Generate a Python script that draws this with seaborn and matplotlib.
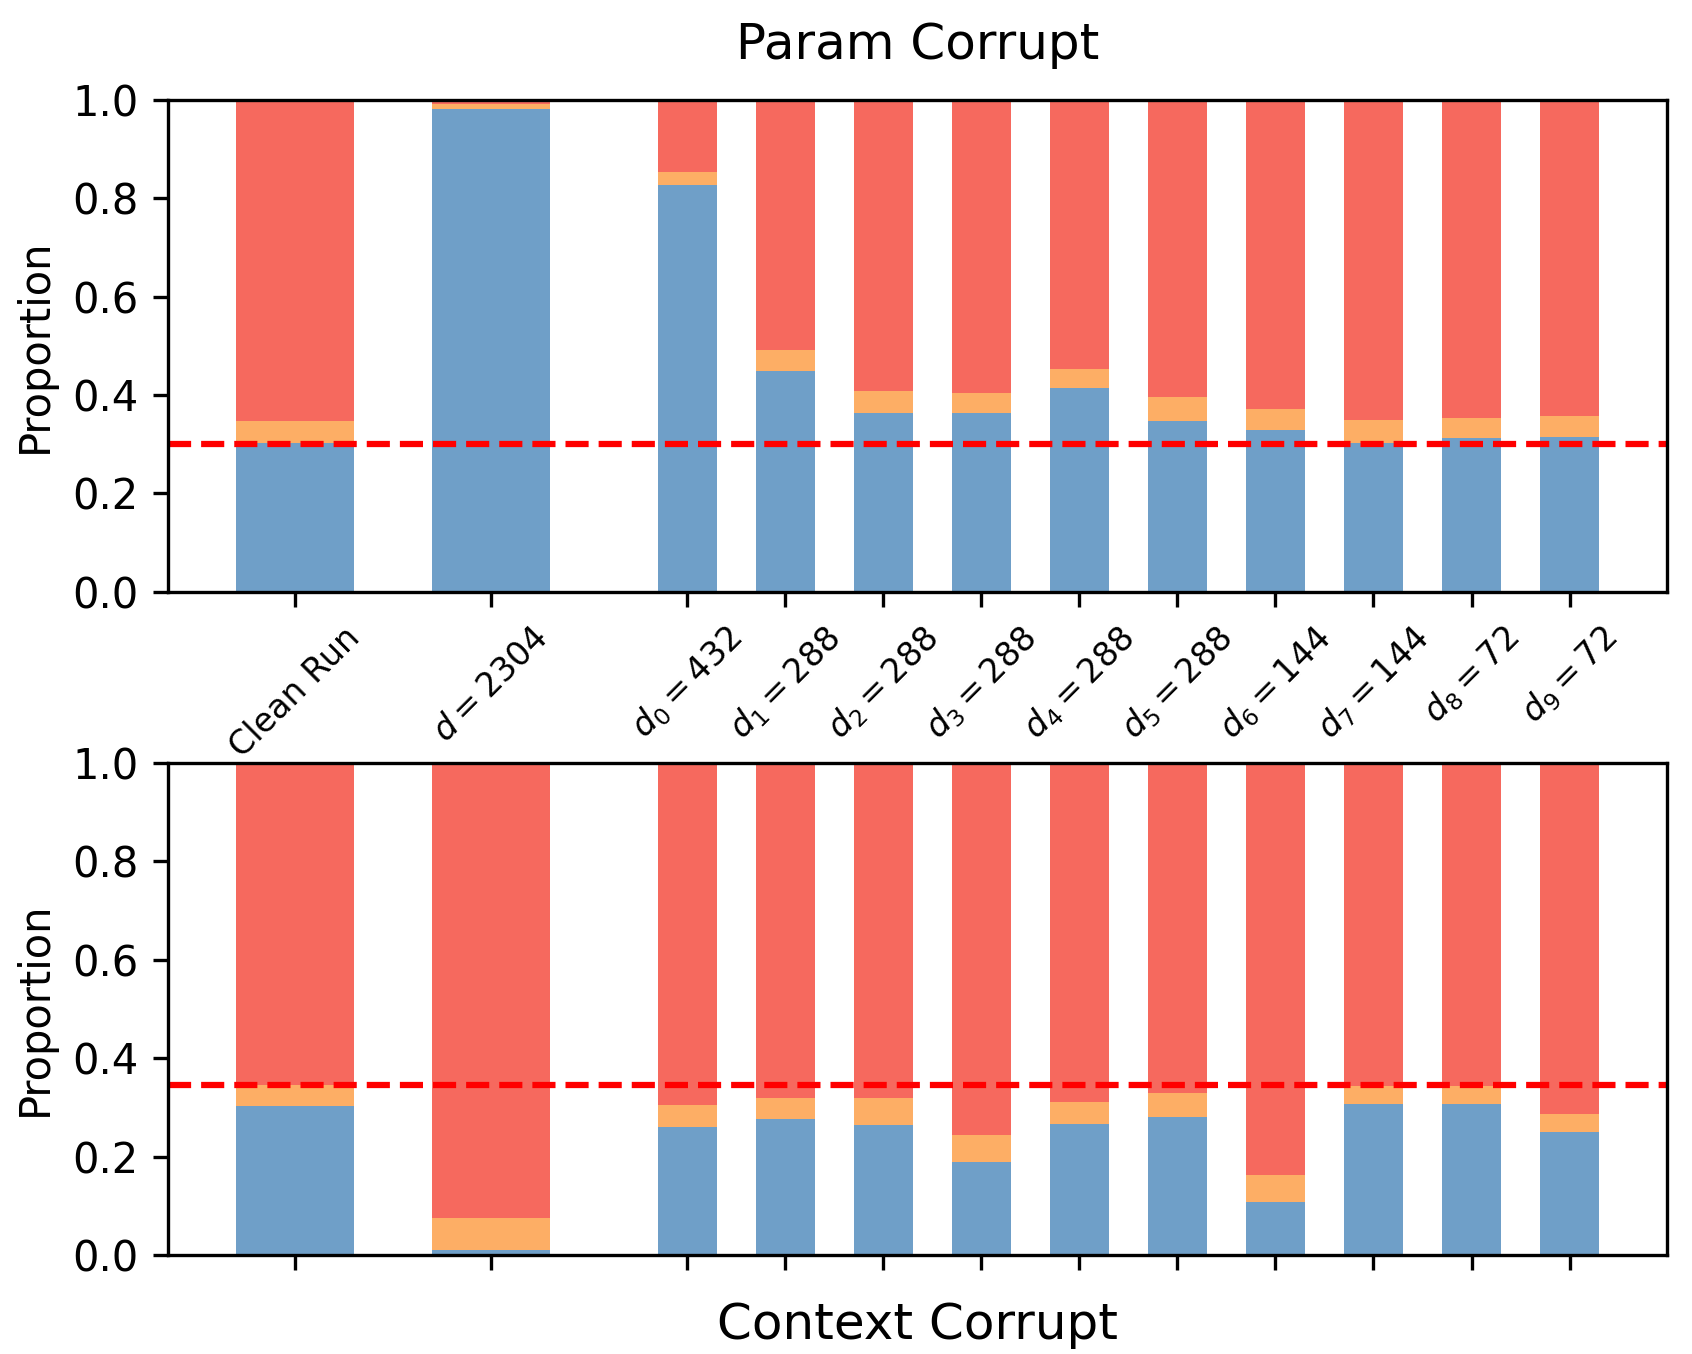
import numpy as np
import pandas as pd
import matplotlib
matplotlib.use("Agg")
import matplotlib.pyplot as plt
import seaborn as sns

# x labels: clean run, full-size baseline, then the per-subspace dims
labels = ["Clean Run", r"$d=2304$", r"$d_0=432$", r"$d_1=288$", r"$d_2=288$",
          r"$d_3=288$", r"$d_4=288$", r"$d_5=288$", r"$d_6=144$",
          r"$d_7=144$", r"$d_8=72$", r"$d_9=72$"]

# Param Corrupt (top panel)
param_correct = [0.302, 0.982, 0.827, 0.448, 0.363, 0.363, 0.414, 0.347, 0.329, 0.302, 0.313, 0.314]
param_partial = [0.045, 0.010, 0.027, 0.043, 0.045, 0.042, 0.040, 0.049, 0.042, 0.048, 0.041, 0.043]
param_baseline = 0.30

# Context Corrupt (bottom panel)
context_correct = [0.302, 0.010, 0.261, 0.276, 0.265, 0.188, 0.267, 0.280, 0.108, 0.307, 0.307, 0.249]
context_partial = [0.043, 0.065, 0.043, 0.044, 0.055, 0.055, 0.043, 0.049, 0.055, 0.037, 0.037, 0.037]
context_baseline = 0.345

BLUE = "#6F9FC8"
ORANGE = "#FDAE65"
RED = "#F6695E"

# first two bars are spaced by 2 (so they come out twice as wide), the rest by 1
positions = np.r_[0, 2, np.arange(4, 4 + len(labels) - 2)]
groups = ["wide", "wide"] + ["narrow"] * (len(labels) - 2)


def make_frame(correct, partial):
    correct = np.asarray(correct)
    partial = np.asarray(partial)
    incorrect = 1 - correct - partial
    return pd.DataFrame({
        "pos": positions,
        "group": groups,
        "top": correct + partial + incorrect,
        "mid": correct + partial,
        "low": correct,
    })


def draw_panel(ax, df, baseline):
    for col, color in [("top", RED), ("mid", ORANGE), ("low", BLUE)]:
        for g in ["wide", "narrow"]:
            sub = df[df["group"] == g]
            sns.barplot(data=sub, x="pos", y=col, native_scale=True, width=0.6,
                        color=color, saturation=1, errorbar=None, linewidth=0, ax=ax)
    ax.axhline(baseline, color="red", linestyle="--", linewidth=1.5)
    ax.set_ylim(0, 1)
    ax.set_yticks(np.arange(0, 1.01, 0.2))
    ax.set_ylabel("Proportion", fontsize=10)
    ax.tick_params(axis="y", labelsize=10)


fig = plt.figure(figsize=(5.64, 4.5134), dpi=300)
ax_top = fig.add_axes([0.0993, 0.563, 0.886, 0.363])
ax_bot = fig.add_axes([0.0993, 0.0731, 0.886, 0.3635])

draw_panel(ax_top, make_frame(param_correct, param_partial), param_baseline)
draw_panel(ax_bot, make_frame(context_correct, context_partial), context_baseline)

ax_top.set_xticks(positions, labels, rotation=45, fontsize=8)
ax_top.set_xlabel("")
ax_top.set_title("Param Corrupt", fontsize=12, pad=10)

ax_bot.set_xticks(positions, [""] * len(labels))
ax_bot.set_xlabel("Context Corrupt", fontsize=12)

fig.savefig("out.png", dpi=300)
